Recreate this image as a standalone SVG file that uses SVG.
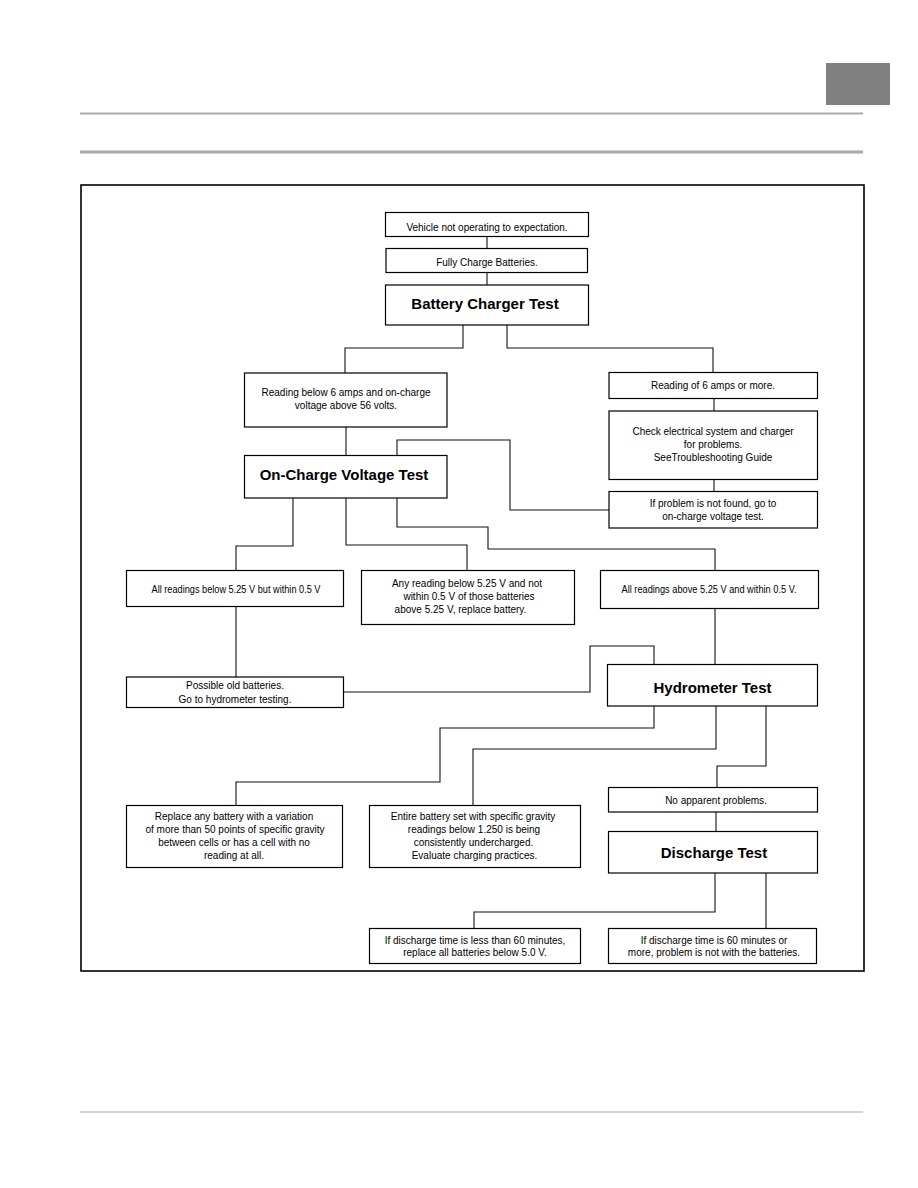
<svg xmlns="http://www.w3.org/2000/svg" width="918" height="1188" viewBox="0 0 918 1188">
<style>
.box{fill:#fff;stroke:#000;stroke-width:1.2}
.t{font-family:"Liberation Sans",Arial,sans-serif;font-size:10px;fill:#000;text-anchor:middle}
.b{font-family:"Liberation Sans",Arial,sans-serif;font-size:15px;font-weight:bold;fill:#000;text-anchor:middle}
.c{fill:none;stroke:#111;stroke-width:1.1}
</style>
<rect width="918" height="1188" fill="#fff"/>
<g id="header">
<rect x="826" y="63" width="64" height="42" fill="#808080"/>
<line x1="80" y1="113.5" x2="863" y2="113.5" stroke="#aaa" stroke-width="2"/>
<line x1="80" y1="152" x2="863" y2="152" stroke="#aaa" stroke-width="3"/>
<line x1="80" y1="1112" x2="863" y2="1112" stroke="#aaa" stroke-width="1.2"/>
</g>
<rect id="frame" x="81" y="185" width="783" height="786" fill="none" stroke="#000" stroke-width="1.6"/>
<g id="connectors">
<path class="c" d="M487,236 V248"/>
<path class="c" d="M487,272 V285"/>
<path class="c" d="M463,325 V348 H345 V373"/>
<path class="c" d="M507,325 V348 H713 V372"/>
<path class="c" d="M346,427 V455"/>
<path class="c" d="M714,398 V411"/>
<path class="c" d="M714,479 V491"/>
<path class="c" d="M397,455 V440 H510 V510 H609"/>
<path class="c" d="M293,498 V546 H236 V570"/>
<path class="c" d="M346,498 V545 H467 V570"/>
<path class="c" d="M397,498 V527 H488 V549 H715 V570"/>
<path class="c" d="M236,606 V677" stroke-width="2"/>
<path class="c" d="M343,692 H590 V646 H654 V664"/>
<path class="c" d="M715,608 V664"/>
<path class="c" d="M654,706 V728 H440 V782 H236 V805"/>
<path class="c" d="M716,706 V749 H473 V805"/>
<path class="c" d="M766,706 V766 H717 V787"/>
<path class="c" d="M716,812 V831"/>
<path class="c" d="M715,873 V912 H474 V928"/>
<path class="c" d="M766,873 V928"/>
</g>
<g id="n1"><rect class="box" x="385.5" y="212.5" width="203" height="24"/><text class="t" x="487" y="230.5">Vehicle not operating to expectation.</text></g>
<g id="n2"><rect class="box" x="386" y="248.5" width="201.5" height="24"/><text class="t" x="487" y="266">Fully Charge Batteries.</text></g>
<g id="n3"><rect class="box" x="385.5" y="285" width="203" height="40"/><text class="b" x="485" y="308.5">Battery Charger Test</text></g>
<g id="n4"><rect class="box" x="244.5" y="373" width="202.5" height="54"/><text class="t" x="346" y="396">Reading below 6 amps and on-charge</text><text class="t" x="346" y="409">voltage above 56 volts.</text></g>
<g id="n5"><rect class="box" x="609" y="372.5" width="208.5" height="26"/><text class="t" x="713" y="389">Reading of 6 amps or more.</text></g>
<g id="n6"><rect class="box" x="609" y="411" width="208.5" height="68.5"/><text class="t" x="713" y="435">Check electrical system and charger</text><text class="t" x="713" y="448">for problems.</text><text class="t" x="713" y="461">SeeTroubleshooting Guide</text></g>
<g id="n7"><rect class="box" x="609" y="491.5" width="208.5" height="36.5"/><text class="t" x="713" y="506.5">If problem is not found, go to</text><text class="t" x="713" y="519.5">on-charge voltage test.</text></g>
<g id="n8"><rect class="box" x="244.5" y="455.5" width="202.5" height="42.5"/><text class="b" x="344" y="479.5">On-Charge Voltage Test</text></g>
<g id="n9"><rect class="box" x="126.5" y="570.5" width="217" height="36"/><text class="t" x="236" y="593" textLength="169" lengthAdjust="spacingAndGlyphs">All readings below 5.25 V but within 0.5 V</text></g>
<g id="n10"><rect class="box" x="361.5" y="570.5" width="213" height="54"/><text class="t" x="467" y="587">Any reading below 5.25 V and not</text><text class="t" x="469" y="600">within 0.5 V of those batteries</text><text class="t" x="460.5" y="613">above 5.25 V, replace battery.</text></g>
<g id="n11"><rect class="box" x="600.5" y="570.5" width="218" height="38"/><text class="t" x="709" y="593" textLength="175" lengthAdjust="spacingAndGlyphs">All readings above 5.25 V and within 0.5 V.</text></g>
<g id="n12"><rect class="box" x="126.5" y="677" width="217" height="30.5"/><text class="t" x="235" y="689">Possible old batteries.</text><text class="t" x="235" y="703">Go to hydrometer testing.</text></g>
<g id="n13"><rect class="box" x="607.5" y="664.5" width="210" height="41.5"/><text class="b" x="712.5" y="693">Hydrometer Test</text></g>
<g id="n14"><rect class="box" x="126.5" y="805.5" width="216" height="62"/><text class="t" x="234" y="820">Replace any battery with a variation</text><text class="t" x="235" y="833">of more than 50 points of specific gravity</text><text class="t" x="234" y="846">between cells or has a cell with no</text><text class="t" x="234" y="859">reading at all.</text></g>
<g id="n15"><rect class="box" x="369.5" y="805.5" width="211" height="62"/><text class="t" x="473" y="820">Entire battery set with specific gravity</text><text class="t" x="474" y="833">readings below 1.250 is being</text><text class="t" x="473.5" y="846">consistently undercharged.</text><text class="t" x="474.5" y="859">Evaluate charging practices.</text></g>
<g id="n16"><rect class="box" x="608.5" y="787.5" width="209" height="24.5"/><text class="t" x="716" y="803.5">No apparent problems.</text></g>
<g id="n17"><rect class="box" x="608.5" y="831.5" width="209" height="41.5"/><text class="b" x="714" y="857.5">Discharge Test</text></g>
<g id="n18"><rect class="box" x="369.5" y="928.5" width="211" height="35"/><text class="t" x="475" y="943.5">If discharge time is less than 60 minutes,</text><text class="t" x="475" y="956">replace all batteries below 5.0 V.</text></g>
<g id="n19"><rect class="box" x="608.5" y="928.5" width="208" height="35"/><text class="t" x="714" y="943.5">If discharge time is 60 minutes or</text><text class="t" x="714" y="956">more, problem is not with the batteries.</text></g>
</svg>
